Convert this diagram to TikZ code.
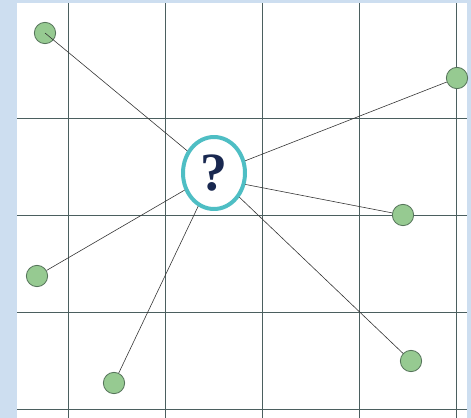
\documentclass[tikz,border=0pt]{standalone}
\usepackage{fontspec}
\setmainfont{Liberation Serif}
\usetikzlibrary{shapes.geometric}
\definecolor{bgblue}{RGB}{205,222,240}
\definecolor{gridcol}{RGB}{75,95,95}
\definecolor{dotgreen}{RGB}{150,202,145}
\definecolor{dotedge}{RGB}{85,115,90}
\definecolor{ringcol}{RGB}{78,190,196}
\definecolor{qnavy}{RGB}{25,40,80}

\begin{document}
\begin{tikzpicture}[x=0.03cm,y=-0.03cm,
		dot/.style={circle,fill=dotgreen,draw=dotedge,line width=0.7pt,minimum size=0.64cm,inner sep=0pt},
		ring/.style={ellipse,draw=ringcol,line width=3.4pt,fill=white,minimum width=1.86cm,minimum height=2.16cm,inner sep=0pt},
		link/.style={line width=0.5pt,draw=gray!40!black}]
		\useasboundingbox (0,0) rectangle (471,418);
		\fill[bgblue] (0,0) rectangle (471,418);
		\fill[white] (17,3) rectangle (467,418);
		\foreach \gx in {68,165,262,359,456}
			\draw[gridcol,line width=0.8pt] (\gx,3) -- (\gx,418);
		\foreach \gy in {118,215,312,409}
			\draw[gridcol,line width=0.8pt] (17,\gy) -- (467,\gy);
		\node[ring] (q) at (214,173) {};
		\node[text=qnavy] at (q) {\fontsize{46}{46}\selectfont\bfseries ?};
		\node[dot] (a) at (45,33) {};
		\node[dot] (b) at (457,78) {};
		\node[dot] (c) at (403,215) {};
		\node[dot] (d) at (37,276) {};
		\node[dot] (e) at (114,383) {};
		\node[dot] (f) at (411,361) {};
		\draw[link] (a.center) -- (q);
		\draw[link] (q) -- (b);
		\draw[link] (q.-20) -- (c);
		\draw[link] (q) -- (d);
		\draw[link] (q) -- (e);
		\draw[link] (q) -- (f);
	\end{tikzpicture}
\end{document}
